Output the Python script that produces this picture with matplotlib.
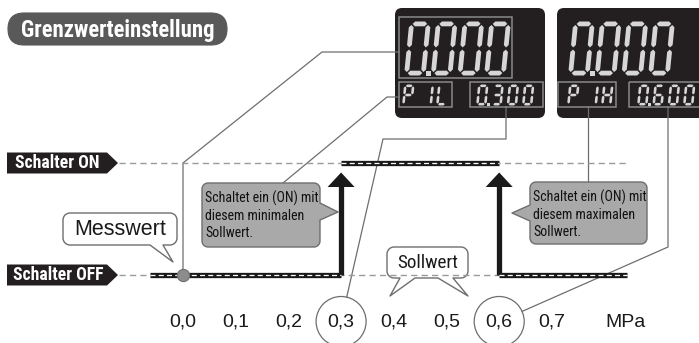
import matplotlib
matplotlib.use('Agg')
import matplotlib.pyplot as plt
from matplotlib import font_manager as fm
from matplotlib.patches import Polygon, FancyBboxPatch, Circle
import numpy as np

# ---------------- data ----------------
ticks = [0.0, 0.1, 0.2, 0.3, 0.4, 0.5, 0.6, 0.7]
tick_labels = ['0,0', '0,1', '0,2', '0,3', '0,4', '0,5', '0,6', '0,7']
unit_label = 'MPa'
unit_pos = 0.84
setpoints = [0.3, 0.6]              # P1L (min), P1H (max)
measured_value = 0.0
switch_edges = [-0.063, 0.3, 0.6, 0.843]
switch_states = [0, 1, 0]
state_labels = ['Schalter OFF', 'Schalter ON']
lcd_main = ['0.000', '0.000']
lcd_param = ['P 1L', 'P 1H']
lcd_value = ['0.300', '0.600']
title = 'Grenzwerteinstellung'
callout_low = ['Schaltet ein (ON) mit', 'diesem minimalen', 'Sollwert.']
callout_high = ['Schaltet ein (ON) mit', 'diesem maximalen', 'Sollwert.']
measured_label = 'Messwert'
setpoint_label = 'Sollwert'

# ---------------- fonts ----------------
avail = {f.name for f in fm.fontManager.ttflist}
def pick(*names):
    for n in names:
        if n in avail:
            return n
    return 'DejaVu Sans'
COND = pick('Liberation Sans Narrow', 'Roboto Condensed', 'Open Sans Condensed',
            'DejaVu Sans Condensed', 'Liberation Sans')
SANS = pick('Liberation Sans', 'Arial', 'DejaVu Sans')

# ---------------- figure ----------------
W, H = 699, 343
fig = plt.figure(figsize=(W / 100, H / 100), dpi=100)
fig.patch.set_facecolor('white')
deco = fig.add_axes([0, 0, 1, 1])
deco.set_xlim(0, W)
deco.set_ylim(H, 0)
deco.axis('off')

AX_BOTTOM = 308
X0, SX = 183, 527      # scale: pixel of 0 MPa, pixels per MPa
Y0, SY = 275, 112      # scale: pixel of OFF level, pixels per level step
ax = fig.add_axes([0, (H - AX_BOTTOM) / H, 1, AX_BOTTOM / H], facecolor='none')
ax.set_xlim(-X0 / SX, (W - X0) / SX)
ax.set_ylim((Y0 - AX_BOTTOM) / SY, Y0 / SY)
for s in ax.spines.values():
    s.set_visible(False)
ax.set_yticks([])
ax.set_xticks(ticks + [unit_pos], tick_labels + [unit_label])
ax.tick_params(axis='x', length=0, pad=4, labelsize=14, colors='#1a1a1a')
for lab in ax.get_xticklabels():
    lab.set_family(SANS)

renderer = fig.canvas.get_renderer()

def to_px(v, lev):
    return deco.transData.inverted().transform(ax.transData.transform((v, lev)))

def px_to_x(px):
    return ax.transData.inverted().transform(deco.transData.transform((px, 0)))[0]

def fit_text(x, y, s, width, **kw):
    t = deco.text(x, y, s, fontsize=10, **kw)
    w = t.get_window_extent(renderer).width
    t.set_fontsize(10 * width / w)
    return t

LINE = '#6e6e6e'

# ---------------- title ----------------
deco.add_patch(FancyBboxPatch((8, 13), 219, 32, boxstyle='round,pad=0,rounding_size=16',
                              fc='#595959', ec='#595959', lw=0.8))
fit_text(117.5, 30, title, 193, ha='center', va='center', color='white',
         family=COND, fontweight='bold')

# ---------------- state labels + reference lines ----------------
level_px = [to_px(0, k)[1] for k in (0, 1)]
tsize = None
for k, lab in enumerate(state_labels):
    ym = level_px[k]
    deco.add_patch(Polygon([(7, ym - 10.5), (107, ym - 10.5), (118, ym), (107, ym + 10.5),
                            (7, ym + 10.5)], closed=True, fc='#231f20', ec='none'))
    if tsize is None:
        t = fit_text(13, ym + 0.5, lab, 90, ha='left', va='center', color='white',
                     family=COND, fontweight='bold')
        tsize = t.get_fontsize()
    else:
        deco.text(15, ym + 0.5, lab, fontsize=tsize, ha='left', va='center', color='white',
                  family=COND, fontweight='bold')
ref_left = px_to_x(119)
for k in (0, 1):
    ax.plot([ref_left, switch_edges[-1]], [k, k], color='#9a9a9a', lw=1.0,
            dashes=(4.5, 3), zorder=1)

# ---------------- step signal ----------------
for i, st in enumerate(switch_states):
    xs = [switch_edges[i], switch_edges[i + 1]]
    ax.plot(xs, [st, st], color='#1a1a1a', lw=3.8, solid_capstyle='butt', zorder=2)
    ax.plot(xs, [st, st], color='white', lw=0.9, dashes=(4, 2.6), zorder=3)

tip_lev = (Y0 - 172.5) / SY
base_lev = (Y0 - 187) / SY
hw = 13.5 / SX
for sp in setpoints:
    ax.plot([sp, sp], [0, base_lev + 0.01], color='#1a1a1a', lw=3.8,
            solid_capstyle='butt', zorder=2)
    ax.add_patch(Polygon([(sp - hw, base_lev), (sp + hw, base_lev), (sp, tip_lev)],
                         closed=True, fc='#1a1a1a', ec='none', zorder=3))

# measured value dot
ax.plot([measured_value], [0], 'o', ms=8.8, color='#8c8c8c', mec='#707070', mew=0.8, zorder=6)

# ---------------- LCD displays ----------------
SEGS = {'0': 'abcdef', '1': 'bc', '3': 'abcdg', '6': 'acdefg', 'P': 'abefg',
        'L': 'def', 'H': 'bcefg', ' ': ''}
SEGC = '#d6d6d6'

def draw_char(ch, x, ybot, w, h, t, slant):
    g = t * 0.22
    L, R = x + t / 2, x + w - t / 2
    T, M, B = ybot - h + t / 2, ybot - h / 2, ybot - t / 2
    def hseg(xa, xb, y):
        return [(xa + g, y), (xa + g + t / 2, y - t / 2), (xb - g - t / 2, y - t / 2),
                (xb - g, y), (xb - g - t / 2, y + t / 2), (xa + g + t / 2, y + t / 2)]
    def vseg(xx, ya, yb):
        return [(xx, ya + g), (xx + t / 2, ya + g + t / 2), (xx + t / 2, yb - g - t / 2),
                (xx, yb - g), (xx - t / 2, yb - g - t / 2), (xx - t / 2, ya + g + t / 2)]
    shapes = {'a': hseg(L, R, T), 'g': hseg(L, R, M), 'd': hseg(L, R, B),
              'f': vseg(L, T, M), 'b': vseg(R, T, M), 'e': vseg(L, M, B), 'c': vseg(R, M, B)}
    for sname in SEGS[ch]:
        pts = [(px + slant * (ybot - py), py) for px, py in shapes[sname]]
        deco.add_patch(Polygon(pts, closed=True, fc=SEGC, ec='none', zorder=3))

def draw_string(s, x, ybot, w, h, t, slant, adv, adv_space):
    for ch in s:
        if ch == '.':
            d = t * 0.95
            xd = x - adv + w + 0.8
            deco.add_patch(Polygon([(xd, ybot), (xd + d, ybot), (xd + d, ybot - d), (xd, ybot - d)],
                                   closed=True, fc=SEGC, ec='none', zorder=3))
            continue
        draw_char(ch, x, ybot, w, h, t, slant)
        x += adv_space if ch == ' ' else adv

BOXC = '#8a8a8a'
def frame(x0, y0, x1, y1):
    deco.add_patch(FancyBboxPatch((x0, y0), x1 - x0, y1 - y0, boxstyle='square,pad=0',
                                  fc='none', ec=BOXC, lw=1.1, zorder=2))

display_left = [395, 557]
display_width = [150, 170]
for i in range(2):
    dx = display_left[i]
    deco.add_patch(FancyBboxPatch((dx, 8), display_width[i], 110,
                                  boxstyle='round,pad=0,rounding_size=7',
                                  fc='#231f20', ec='none', zorder=1))
    if i == 0:
        frame(399, 17, 512, 78)
        frame(399, 82, 452, 107)
        frame(470, 82, 543, 107)
    else:
        frame(558, 82, 616, 107)
        frame(629, 82, 712, 107)
    draw_string(lcd_main[i], dx + 9 + (2 if i else 0), 75.5, 21.5, 54, 4.8, 0.1, 26.7, 26.7)
    draw_string(lcd_param[i], dx + 7 + (3 if i else 0), 105.5, 10.5, 21, 2.6, 0.1, 14.5, 5)
    draw_string(lcd_value[i], dx + 81 + (-1 if i else 0), 105.5, 10.5, 21, 2.6, 0.1, 15.3, 15.3)

# ---------------- circles around set points ----------------
lab_cy = 321.5
R = 25
centres = []
for sp in setpoints:
    cx = to_px(sp, 0)[0]
    centres.append((cx, lab_cy))
    deco.add_patch(Circle((cx, lab_cy), R, fc='none', ec=LINE, lw=0.9, zorder=2))

def on_circle(c, toward):
    d = np.array(toward) - np.array(c)
    d = d / np.hypot(*d)
    return (c[0] + R * d[0], c[1] + R * d[1])

# ---------------- leader lines ----------------
dot_px = to_px(measured_value, 0)
on_py = level_px[1]
leaders = [
    [tuple(dot_px), (dot_px[0], on_py), (322, 52), (399, 52)],
    [(399, 97), (387, 97), (283, 183)],
    [(506, 107), (506, 139), (383, 139), on_circle(centres[0], (383, 139))],
    [(588, 107), (588, 182)],
    [(668, 107), (668, 247), on_circle(centres[1], (668, 247))],
]
for pts in leaders:
    xs, ys = zip(*pts)
    deco.plot(xs, ys, color=LINE, lw=0.9, zorder=1.5)

# ---------------- callouts ----------------
def callout(x0, y0, x1, y1, r, tails, fc, ec):
    n = 8
    def arc(cx, cy, a0, a1):
        return [(cx + r * np.cos(a), cy + r * np.sin(a)) for a in np.linspace(a0, a1, n)]
    pts = []
    pts += [(x0 + r, y0)]
    for side, a, b, tip in tails:
        if side == 'top':
            pts += [(a, y0), tip, (b, y0)]
    pts += arc(x1 - r, y0 + r, -np.pi / 2, 0)
    for side, a, b, tip in tails:
        if side == 'right':
            pts += [(x1, a), tip, (x1, b)]
    pts += arc(x1 - r, y1 - r, 0, np.pi / 2)
    for side, a, b, tip in sorted([t for t in tails if t[0] == 'bottom'], key=lambda t: -t[2]):
        pts += [(b, y1), tip, (a, y1)]
    pts += arc(x0 + r, y1 - r, np.pi / 2, np.pi)
    for side, a, b, tip in tails:
        if side == 'left':
            pts += [(x0, b), tip, (x0, a)]
    pts += arc(x0 + r, y0 + r, np.pi, 1.5 * np.pi)
    deco.add_patch(Polygon(pts, closed=True, fc=fc, ec=ec, lw=1.0, joinstyle='round', zorder=2))

GRAYF = '#a9a9a9'
callout(202, 183, 320, 247, 6, [('right', 203, 220, (338, 212))], GRAYF, LINE)
callout(530, 182, 647, 244, 6, [('left', 205, 221, (512, 213))], GRAYF, LINE)
callout(63, 213, 177, 245, 7, [('bottom', 150, 163, (173, 262))], 'white', LINE)
callout(387, 247, 468, 278, 7, [('bottom', 400, 415, (390, 296)),
                                ('bottom', 438, 453, (468, 296))], 'white', LINE)

t = fit_text(205, 203, callout_low[0], 114, ha='left', va='baseline', color='#111111',
             family=COND, zorder=4)
cs = t.get_fontsize()
for k, line in enumerate(callout_low[1:], start=1):
    deco.text(205, 203 + 16.8 * k, line, fontsize=cs, ha='left', va='baseline',
              color='#111111', family=COND, zorder=4)
for k, line in enumerate(callout_high):
    deco.text(533, 202 + 16.8 * k, line, fontsize=cs, ha='left', va='baseline',
              color='#111111', family=COND, zorder=4)

fit_text(120, 229.5, measured_label, 92, ha='center', va='center', color='#1a1a1a',
         family=SANS, zorder=4)
fit_text(427.5, 263, setpoint_label, 61, ha='center', va='center', color='#1a1a1a',
         family=COND, zorder=4)

fig.savefig('out.png', dpi=100)
